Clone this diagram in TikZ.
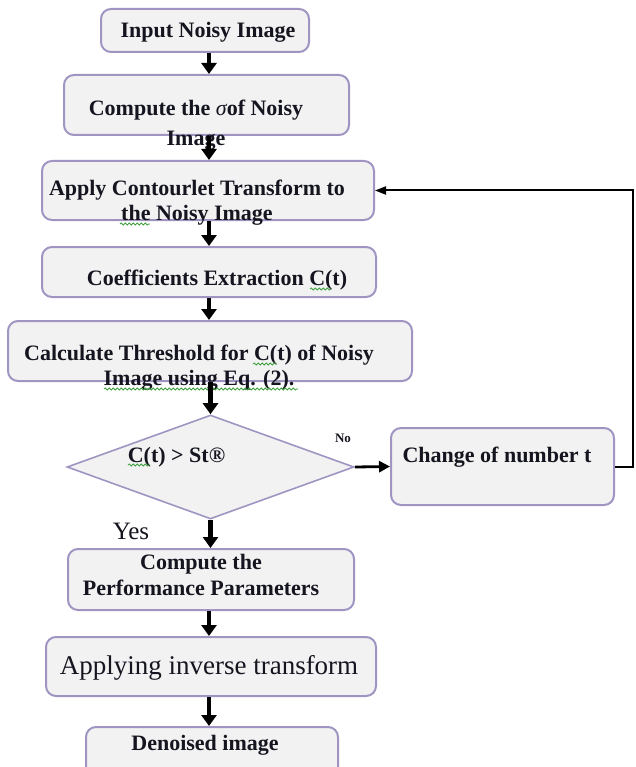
\documentclass[tikz,border=0pt]{standalone}
\usepackage{fontspec}
\setmainfont{Liberation Serif}
\usetikzlibrary{arrows.meta,shapes.geometric,decorations.pathmorphing}
\definecolor{boxfill}{HTML}{F2F2F2}
\definecolor{boxline}{HTML}{A095C2}
\definecolor{inkc}{HTML}{151520}
\definecolor{squig}{HTML}{3FA03F}
\tikzset{
  stepbox/.style={draw=boxline, line width=2pt, fill=boxfill, rounded corners=10pt, inner sep=0pt},
  decbox/.style={diamond, draw=boxline, line width=1.6pt, fill=boxfill, inner sep=0pt},
  lbl/.style={text=inkc, font=\bfseries\fontsize{22}{25}\selectfont, inner sep=0pt, align=center},
  plain/.style={text=inkc, inner sep=0pt, align=center},
  flow/.style={line width=4.2pt, -{Triangle[length=11pt,width=15pt]}},
  side/.style={line width=2.8pt, -{Triangle[length=11pt,width=11pt]}},
  back/.style={line width=2pt, -{Triangle[length=11pt,width=8pt]}},
  spell/.style={squig, line width=0.8pt, decorate, decoration={snake, amplitude=1.1pt, segment length=4pt}},
}
\begin{document}
\begin{tikzpicture}[x=1pt,y=-1pt]
\clip (0,0) rectangle (636,767);
\fill[white] (0,0) rectangle (636,767);

% process boxes
\node[stepbox, minimum width=208, minimum height=43] (input) at (205,30.5) {};
\node[stepbox, minimum width=285, minimum height=60] (sigma) at (206.5,105) {};
\node[stepbox, minimum width=332, minimum height=59] (apply) at (208,190.5) {};
\node[stepbox, minimum width=334, minimum height=50] (coef) at (209,272) {};
\node[stepbox, minimum width=404, minimum height=60] (calc) at (210,351) {};
\node[decbox, minimum width=287, minimum height=104] (dec) at (210.5,467) {};
\node[stepbox, minimum width=223, minimum height=77] (change) at (502.5,466.5) {};
\node[stepbox, minimum width=286, minimum height=61] (perf) at (211,579.5) {};
\node[stepbox, minimum width=330, minimum height=59] (inverse) at (211,666.5) {};
\node[stepbox, minimum width=252, minimum height=53] (denoised) at (212,753.5) {};

% labels
\node[lbl] (tinput) at (208,32.5) {Input Noisy Image};
\node[lbl, font=\bfseries\fontsize{22}{30}\selectfont] (tsigma) at (196,125) {Compute the {\normalfont\itshape σ}of Noisy\\Image};
\node[lbl] (tapply) at (197,202.5) {Apply Contourlet Transform to\\the Noisy Image};
\node[lbl] (tcoef) at (217,280.5) {Coefficients Extraction C(t)};
\node[lbl] (tcalc) at (199,367.5) {Calculate Threshold for C(t) of Noisy\\Image using Eq. (2).};
\node[lbl] (tdec) at (176.5,457.5) {C(t) > St®};
\node[lbl] (tchange) at (497,457.5) {Change of number t};
\node[lbl, font=\bfseries\fontsize{22}{26}\selectfont] (tperf) at (201,574.5) {Compute the\\Performance Parameters};
\node[plain, font=\fontsize{27}{30}\selectfont] (tinverse) at (209,668) {Applying inverse transform};
\node[lbl] (tden) at (205,745.5) {Denoised image};
\node[lbl, font=\bfseries\fontsize{13}{15}\selectfont] (tno) at (343,438) {No};
\node[plain, font=\fontsize{25}{28}\selectfont] (tyes) at (131,531) {Yes};

% spell-check underlines
\draw[spell] (120,224) -- (150,224);
\draw[spell] (310,289) -- (331,289);
\draw[spell] (253,364) -- (277,364);
\draw[spell] (104,389) -- (298,389);
\draw[spell] (128,465) -- (150,465);

% connectors
\coordinate (col) at (209,0);
\coordinate (loop) at (633,0);
\draw[flow] (input.south -| col) -- (sigma.north -| col);
\draw[flow] (sigma.south -| col) -- (apply.north -| col);
\draw[flow] (apply.south -| col) -- (coef.north -| col);
\draw[flow] (coef.south -| col) -- (calc.north -| col);
\draw[flow] (calc.south -| dec.north) -- (dec.north);
\draw[flow] (dec.south) -- (perf.north -| dec.south);
\draw[flow] (perf.south -| col) -- (inverse.north -| col);
\draw[flow] (inverse.south -| col) -- (denoised.north -| col);
\draw[side] (dec.east) -- (change.west);
\draw[back] (change.east) -- (change.east -| loop) |- (apply.east);
\end{tikzpicture}
\end{document}
